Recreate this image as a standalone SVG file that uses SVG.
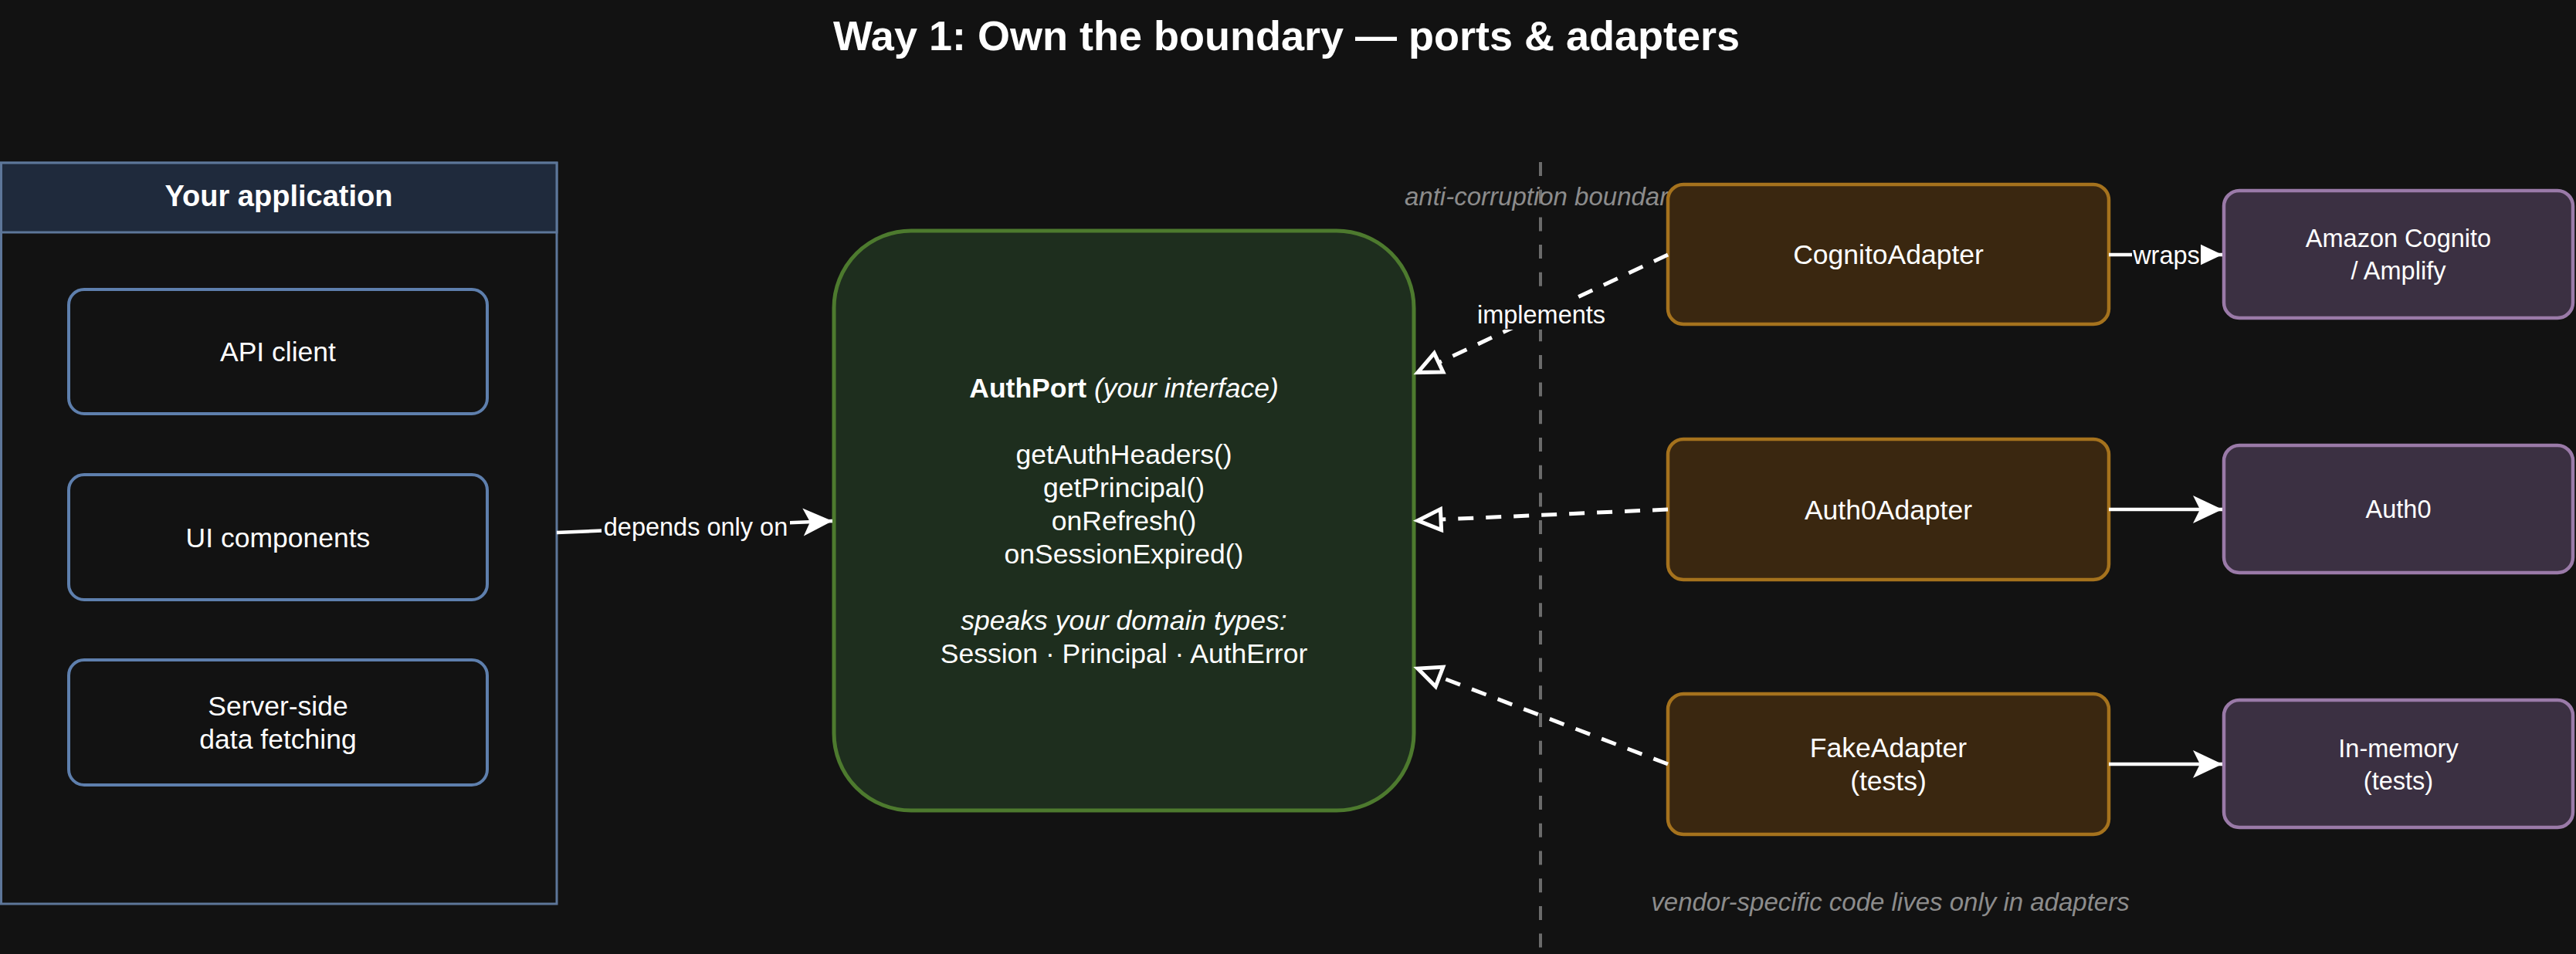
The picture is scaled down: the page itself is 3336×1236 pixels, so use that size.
<svg xmlns="http://www.w3.org/2000/svg" width="3336" height="1236" viewBox="0 0 3336 1236">
<style>
text{font-family:"Liberation Sans",Arial,Helvetica,sans-serif;fill:#ffffff;text-anchor:middle}
.title{font-size:54px;font-weight:bold}
.hdr{font-size:38px;font-weight:bold}
.t{font-size:35.5px}
.p{font-size:32.5px}
.lbl{font-size:32.5px}
.note{font-size:33px;font-style:italic;fill:#8c8c8c}
.app{fill:#121212;stroke:#5e7fad;stroke-width:4}
.adp{fill:#3a2710;stroke:#a5721d;stroke-width:4.5}
.ven{fill:#3b3042;stroke:#9a7aa8;stroke-width:4.5}
.solid{stroke:#ffffff;stroke-width:4.5;fill:none;marker-end:url(#classic)}
.dash{stroke:#ffffff;stroke-width:5;fill:none;stroke-dasharray:20 16;marker-end:url(#hollow)}
.lbg{fill:#121212}
</style>
<defs>
<marker id="classic" markerUnits="userSpaceOnUse" viewBox="-40 -20 42 40" markerWidth="42" markerHeight="40" refX="0" refY="0" orient="auto" overflow="visible">
<path d="M0,0 L-38,-18 L-29,0 L-38,18 Z" fill="#ffffff"/>
</marker>
<marker id="hollow" markerUnits="userSpaceOnUse" viewBox="-4 -17 38 34" markerWidth="38" markerHeight="34" refX="0" refY="0" orient="auto" overflow="visible">
<path d="M0,-13.5 L30,0 L0,13.5 Z" fill="none" stroke="#ffffff" stroke-width="5"/>
</marker>
</defs>
<rect x="0" y="0" width="3336" height="1236" fill="#121212"/>
<text class="title" x="1666" y="65">Way 1: Own the boundary — ports &amp; adapters</text>

<g id="boundary">
<line x1="1995" y1="210" x2="1995" y2="1236" stroke="#6b6b6b" stroke-width="4" stroke-dasharray="18 17.7"/>
<text class="note" x="1819" y="266" style="text-anchor:start">anti-corruption boundary</text>
<text class="note" x="2448" y="1180">vendor-specific code lives only in adapters</text>
</g>

<g id="your-application">
<rect x="1.5" y="211" width="719.5" height="960" fill="#121212" stroke="#5d7699" stroke-width="3"/>
<rect x="1.5" y="211" width="719.5" height="90" fill="#1f2a3c" stroke="#5d7699" stroke-width="3"/>
<text class="hdr" x="361" y="267">Your application</text>
</g>
<g id="api-client">
<rect class="app" x="89" y="375" width="542" height="161" rx="20"/>
<text class="t" x="360" y="468">API client</text>
</g>
<g id="ui-components">
<rect class="app" x="89" y="615" width="542" height="162" rx="20"/>
<text class="t" x="360" y="708.5">UI components</text>
</g>
<g id="server-side">
<rect class="app" x="89" y="855" width="542" height="162" rx="20"/>
<text class="t" x="360" y="927">Server-side</text>
<text class="t" x="360" y="970">data fetching</text>
</g>

<g id="authport">
<rect x="1080" y="299" width="751" height="751" rx="100" fill="#1e2e1e" stroke="#4d7a2e" stroke-width="5"/>
<text class="t" x="1455.5" y="514.5"><tspan font-weight="bold">AuthPort</tspan><tspan font-style="italic"> (your interface)</tspan></text>
<text class="t" x="1455.5" y="600.5">getAuthHeaders()</text>
<text class="t" x="1455.5" y="643.5">getPrincipal()</text>
<text class="t" x="1455.5" y="686.5">onRefresh()</text>
<text class="t" x="1455.5" y="729.5">onSessionExpired()</text>
<text class="t" x="1455.5" y="815.5" font-style="italic">speaks your domain types:</text>
<text class="t" x="1455.5" y="858.5">Session · Principal · AuthError</text>
</g>

<g id="cognito-adapter">
<rect class="adp" x="2160" y="239" width="571" height="181" rx="20"/>
<text class="t" x="2445.5" y="342">CognitoAdapter</text>
</g>
<g id="auth0-adapter">
<rect class="adp" x="2160" y="569" width="571" height="182" rx="20"/>
<text class="t" x="2445.5" y="672.5">Auth0Adapter</text>
</g>
<g id="fake-adapter">
<rect class="adp" x="2160" y="899" width="571" height="182" rx="20"/>
<text class="t" x="2445.5" y="981">FakeAdapter</text>
<text class="t" x="2445.5" y="1024">(tests)</text>
</g>

<g id="amazon-cognito">
<rect class="ven" x="2880" y="247" width="452" height="165" rx="20"/>
<text class="p" x="3106" y="320">Amazon Cognito</text>
<text class="p" x="3106" y="362">/ Amplify</text>
</g>
<g id="auth0">
<rect class="ven" x="2880" y="577" width="452" height="165" rx="20"/>
<text class="p" x="3106" y="671">Auth0</text>
</g>
<g id="in-memory">
<rect class="ven" x="2880" y="907" width="452" height="165" rx="20"/>
<text class="p" x="3106" y="980.5">In-memory</text>
<text class="p" x="3106" y="1022.5">(tests)</text>
</g>

<g id="connectors">
<line class="solid" x1="721" y1="690" x2="1078" y2="675"/>
<rect class="lbg" x="779" y="662" width="244" height="41"/>
<text class="lbl" x="901" y="694">depends only on</text>

<line class="dash" x1="2160" y1="330" x2="1863.1" y2="469.8"/>
<rect class="lbg" x="1911" y="388" width="170" height="39"/>
<text class="lbl" x="1996" y="418.5">implements</text>

<line class="dash" x1="2160" y1="660" x2="1866" y2="673.1"/>
<line class="dash" x1="2160" y1="990" x2="1864" y2="876.8"/>

<line class="solid" x1="2731" y1="330" x2="2878" y2="330"/>
<rect class="lbg" x="2761" y="311" width="89" height="38"/>
<text class="lbl" x="2805.5" y="341.5">wraps</text>

<line class="solid" x1="2731" y1="660" x2="2878" y2="660"/>
<line class="solid" x1="2731" y1="990" x2="2878" y2="990"/>
</g>
</svg>
